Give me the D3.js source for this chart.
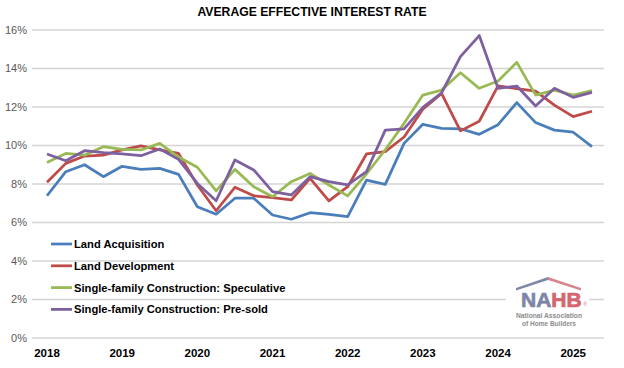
<!DOCTYPE html>
<html><head><meta charset="utf-8">
<script src="https://cdnjs.cloudflare.com/ajax/libs/d3/7.8.5/d3.min.js"></script>
<style>
html,body{margin:0;padding:0;background:#fff;}
svg{display:block;font-family:"Liberation Sans",Arial,sans-serif;}
</style></head>
<body><svg id="c" width="624" height="368"></svg>
<script>
const quarters = d3.range(30); // 2018Q1 .. 2025Q2
const yearLabels = ["2018","2019","2020","2021","2022","2023","2024","2025"];
const yTicks = [0,2,4,6,8,10,12,14,16];
const seriesNames = ["Land Acquisition","Land Development","Single-family Construction: Speculative","Single-family Construction: Pre-sold"];
const landAcquisition = [7.39,8.64,9.0,8.38,8.92,8.76,8.81,8.5,6.82,6.43,7.26,7.26,6.39,6.17,6.51,6.42,6.3,8.2,7.98,10.11,11.1,10.89,10.87,10.58,11.08,12.23,11.19,10.8,10.69,9.94];
const landDevelopment = [8.09,9.07,9.45,9.5,9.77,9.98,9.77,9.59,7.95,6.61,7.83,7.39,7.29,7.17,8.29,7.12,7.86,9.56,9.68,10.44,11.88,12.7,10.76,11.26,13.1,12.95,12.82,12.1,11.5,11.78];
const speculative = [9.12,9.59,9.5,9.94,9.8,9.77,10.11,9.4,8.87,7.64,8.76,7.86,7.34,8.12,8.55,7.95,7.38,8.52,9.78,11.15,12.62,12.88,13.78,12.97,13.35,14.32,12.62,12.88,12.62,12.85];
const presold = [9.56,9.21,9.73,9.63,9.56,9.47,9.82,9.28,8.03,7.13,9.25,8.73,7.6,7.43,8.38,8.12,7.95,8.64,10.8,10.86,11.98,12.74,14.62,15.71,12.97,13.09,12.05,12.97,12.5,12.76];
const colors = ["#4A7EBB","#BE4B48","#98B954","#7D60A0"];

const svg = d3.select("#c");
const x = d3.scaleLinear().domain([0,29]).range([47,592]);
const y = d3.scaleLinear().domain([0,16]).range([338,30]);

svg.append("text").attr("x",312).attr("y",16).attr("text-anchor","middle")
  .attr("font-size",12.2).attr("font-weight","bold").attr("fill","#000")
  .text("AVERAGE EFFECTIVE INTEREST RATE");

// gridlines
svg.append("g").selectAll("line").data(yTicks).join("line")
  .attr("x1",32).attr("x2",604).attr("y1",d=>y(d)).attr("y2",d=>y(d))
  .attr("stroke","#D4D4D4").attr("stroke-width",1.5);

// y labels
svg.append("g").selectAll("text").data(yTicks).join("text")
  .attr("x",27).attr("y",d=>y(d)).attr("dy","0.35em").attr("text-anchor","end")
  .attr("font-size",11).attr("fill","#595959").text(d=>d+"%");

// x labels
svg.append("g").selectAll("text").data(yearLabels).join("text")
  .attr("x",(d,i)=>x(i*4)).attr("y",357).attr("text-anchor","middle")
  .attr("font-size",11.5).attr("font-weight","bold").attr("fill","#000").text(d=>d);

// logo
const logo = svg.append("g");
logo.append("rect").attr("x",506).attr("y",272).attr("width",83).attr("height",58).attr("fill","#fff");
logo.append("path").attr("d","M516,288 L548,277 L548,280 L516,290.5 Z").attr("fill","#7F88A8");
logo.append("path").attr("d","M548,277 L581,288 L581,290.5 L548,280 Z").attr("fill","#D8868D");
const nt = logo.append("text").attr("x",521).attr("y",306.5)
  .attr("font-size",21).attr("font-weight","bold").attr("stroke-width",0.7);
nt.append("tspan").attr("fill","#7D86A6").attr("stroke","#7D86A6").text("NA");
nt.append("tspan").attr("fill","#D4666E").attr("stroke","#D4666E").text("HB");
logo.append("text").attr("x",583.5).attr("y",306).attr("fill","#D4666E").attr("font-size",4.5).text("®");
logo.append("text").attr("x",549).attr("y",318).attr("text-anchor","middle").attr("font-size",7).attr("font-weight","bold").attr("fill","#8C8C8C")
  .attr("textLength",66).attr("lengthAdjust","spacingAndGlyphs").text("National Association");
logo.append("text").attr("x",549).attr("y",326).attr("text-anchor","middle").attr("font-size",7).attr("font-weight","bold").attr("fill","#8C8C8C")
  .attr("textLength",54).attr("lengthAdjust","spacingAndGlyphs").text("of Home Builders");

// lines
const data = [landAcquisition, landDevelopment, speculative, presold];
const line = d3.line().x((d,i)=>x(quarters[i])).y(d=>y(d));
svg.append("g").selectAll("path").data(data).join("path")
  .attr("d",line).attr("fill","none").attr("stroke",(d,i)=>colors[i])
  .attr("stroke-width",2.75).attr("stroke-linejoin","round");

// legend
const leg = svg.append("g").selectAll("g").data(seriesNames).join("g")
  .attr("transform",(d,i)=>`translate(0,${244+i*21.8})`);
leg.append("line").attr("x1",51).attr("x2",72).attr("y1",0).attr("y2",0)
  .attr("stroke",(d,i)=>colors[i]).attr("stroke-width",2.75);
leg.append("text").attr("x",74).attr("y",0).attr("dy","0.35em")
  .attr("font-size",11.2).attr("font-weight","bold").attr("fill","#000").text(d=>d);
</script></body></html>
